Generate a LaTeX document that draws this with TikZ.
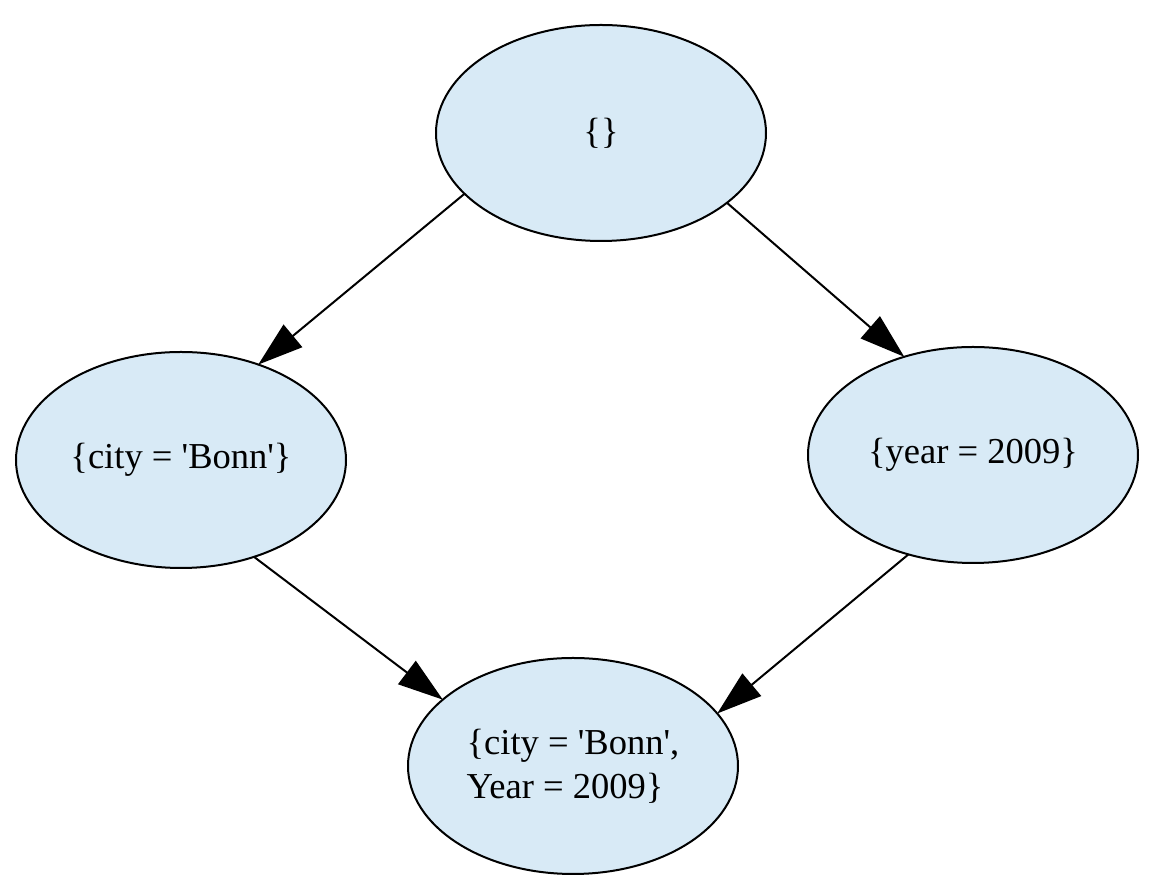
\documentclass[tikz,border=0pt]{standalone}
\usepackage{fontspec}
\setmainfont{Liberation Serif}
\usetikzlibrary{shapes.geometric,arrows.meta}
\definecolor{setblue}{RGB}{216,234,246}
\newcommand{\sq}{\textquotesingle}
\tikzset{
    lattice/.style={ellipse,draw,fill=setblue,line width=0.75pt,inner sep=0pt,outer sep=0pt,
        minimum width=123.75pt,minimum height=81pt,font=\fontsize{13.7}{16.5}\selectfont},
    edge/.style={line width=0.75pt,-{Triangle[length=16.9pt,width=10.9pt]}}
}
\begin{document}
\begin{tikzpicture}[x=0.375pt,y=-0.375pt]
    \useasboundingbox (0,0) rectangle (1163,893);
    \node[lattice] (empty) at (601,133) {\{\}};
    \node[lattice] (city) at (181,460) {\{city = \sq Bonn\sq\}};
    \node[lattice] (year) at (973,455) {\{year = 2009\}};
    \node[lattice,align=left] (both) at (573,766) {\{city = \sq Bonn\sq,\\Year = 2009\}};
    \draw[edge] (empty.204.5) -- (city.51);
    \draw[edge] (empty.331.3) -- (year.125);
    \draw[edge] (city.307) -- (both.153.3);
    \draw[edge] (year.237.9) -- (both.20.3);
\end{tikzpicture}
\end{document}
